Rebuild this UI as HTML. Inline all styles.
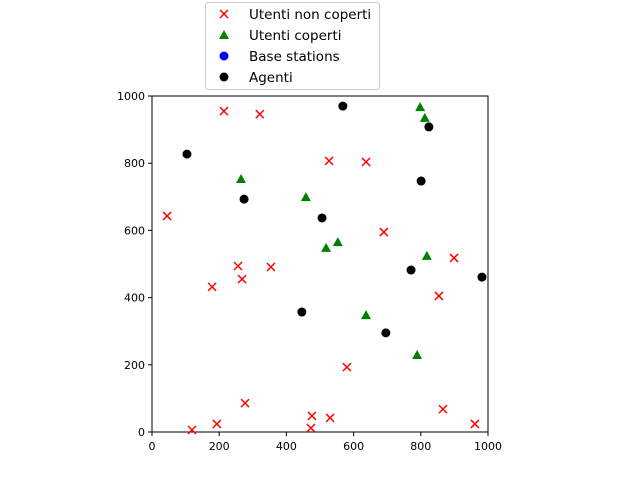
<!DOCTYPE html>
<html><head><meta charset="utf-8"><style>body{margin:0;background:#fff}svg{display:block;font-family:"DejaVu Sans","Liberation Sans",sans-serif}</style></head>
<body>
<svg id="c" width="640" height="480"></svg>
<script>
const redX=[214,321,45,527,637,690,256,268,354,179,899,854,580,277,119,193,476,473,530,866,961];
const redY=[955,946,643,807,804,595,494,455,491,432,518,405,193,86,6,24,48,12,42,68,24];
const greenX=[265,458,798,812,518,553,818,637,789];
const greenY=[753,699,967,935,548,565,524,348,229];
const blackX=[104,568,824,274,506,801,771,982,446,696];
const blackY=[827,970,908,693,637,747,482,461,357,295];
const ticks=[0,200,400,600,800,1000];
const legendLabels=["Utenti non coperti","Utenti coperti","Base stations","Agenti"];
const NS="http://www.w3.org/2000/svg",svg=document.getElementById('c');
const L=152,R=488,T=96,B=432;
const sx=v=>L+(v/1000)*(R-L), sy=v=>B-(v/1000)*(B-T);
function el(t,a,p){const e=document.createElementNS(NS,t);for(const k in a)e.setAttribute(k,a[k]);(p||svg).appendChild(e);return e;}
const frame=el('rect',{x:L,y:T,width:R-L,height:B-T,fill:'none',stroke:'#000','stroke-width':1});


ticks.forEach(t=>{
 const a=el('line',{x1:sx(t),x2:sx(t),y1:B,y2:B+4,stroke:'#000'});
 
 
 const tx=el('text',{x:sx(t),y:B+18,'text-anchor':'middle','font-size':11});tx.textContent=t;
 
 
 const b=el('line',{x1:L-4,x2:L,y1:sy(t),y2:sy(t),stroke:'#000'});
 
 
 const ty=el('text',{x:L-7,y:sy(t)+4,'text-anchor':'end','font-size':11});ty.textContent=t;
 
 
});
function xm(cx,cy,name){const g=el('g',{stroke:'red','stroke-width':1.5});
 el('line',{x1:cx-4,y1:cy-4,x2:cx+4,y2:cy+4},g);el('line',{x1:cx-4,y1:cy+4,x2:cx+4,y2:cy-4},g);
 
 }
function tri(cx,cy,name){const p=el('polygon',{points:`${cx},${cy-5} ${cx-5},${cy+4} ${cx+5},${cy+4}`,fill:'green'});
 
 }
function dot(cx,cy,col,name){const c=el('circle',{cx:cx,cy:cy,r:4.5,fill:col});
 
 }
redX.forEach((v,i)=>xm(sx(v),sy(redY[i]),'uncovered-user-point'));
greenX.forEach((v,i)=>tri(sx(v),sy(greenY[i]),'covered-user-point'));
blackX.forEach((v,i)=>dot(sx(v),sy(blackY[i]),'#000','agent-point'));
const lg=el('rect',{x:205.5,y:2.5,width:174,height:87,rx:3,fill:'#fff',stroke:'#ccc'});


const ly=[14,35,56,77];
xm(224,ly[0],'legend-marker-uncovered');tri(224,ly[1],'legend-marker-covered');
dot(224,ly[2],'blue','legend-marker-base-stations');dot(224,ly[3],'#000','legend-marker-agents');
legendLabels.forEach((s,i)=>{const t=el('text',{x:249,y:ly[i]+5,'font-size':13.5});t.textContent=s;
 
 });
</script>
</body></html>
